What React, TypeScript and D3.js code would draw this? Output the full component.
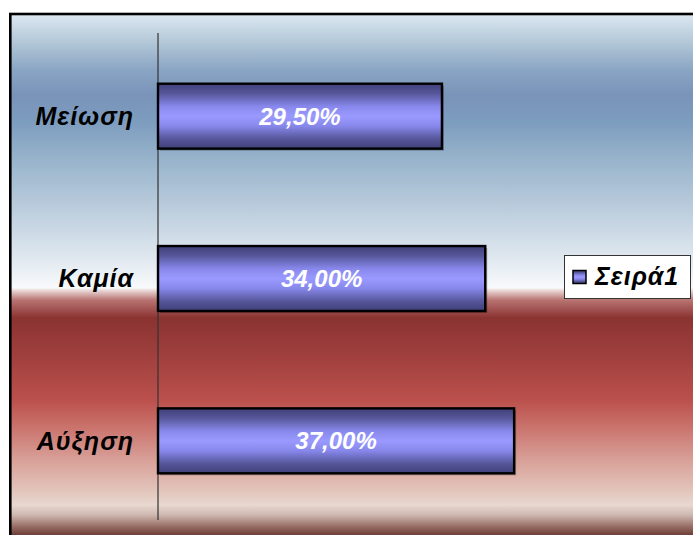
import React from "react";
import * as d3 from "d3";

// Survey result: share of answers per category
const categories: string[] = ["Μείωση", "Καμία", "Αύξηση"];
const values: number[] = [29.5, 34.0, 37.0];
const valueLabels: string[] = ["29,50%", "34,00%", "37,00%"];
const seriesName = "Σειρά1";

const W = 693;
const H = 535;

// background band colours (absolute y → colour)
const bgStops: [number, string][] = [
  [14, "#dce8f2"],
  [40, "#b6cad9"],
  [70, "#8aa5c4"],
  [95, "#7a93b9"],
  [120, "#7c9cbe"],
  [170, "#9fb9cf"],
  [220, "#c3d3e1"],
  [260, "#e1e9f0"],
  [288, "#f8fafc"],
  [290, "#ecdcdb"],
  [300, "#b87472"],
  [318, "#8a3331"],
  [360, "#a2413f"],
  [400, "#bb504c"],
  [425, "#c9706a"],
  [460, "#d8a098"],
  [490, "#e2c4ba"],
  [505, "#e8d8d0"],
  [515, "#cdb8b0"],
  [526, "#9a7068"],
  [535, "#6e3e38"],
];

const barStops: [number, string][] = [
  [0, "#40407a"],
  [0.15, "#56569a"],
  [0.35, "#8888ec"],
  [0.5, "#9999ff"],
  [0.65, "#8888ec"],
  [0.85, "#56569a"],
  [1, "#40407a"],
];

const font = "'Liberation Sans', Arial, sans-serif";

export default function App() {
  const plotTop = 35;
  const plotBottom = 522;
  const plotLeft = 158;

  const y = d3
    .scaleBand<string>()
    .domain(categories)
    .range([plotTop, plotBottom])
    .paddingInner(0.6)
    .paddingOuter(0.3);

  const x = d3.scaleLinear().domain([0, 40]).range([plotLeft, 543]);

  const bgY0 = 14;
  const bgY1 = 535;

  return (
    <svg
      width={W}
      height={H}
      style={{ position: "absolute", left: 0, top: 0, display: "block" }}
    >
      <defs>
        <linearGradient
          id="bg"
          gradientUnits="userSpaceOnUse"
          x1={0}
          y1={bgY0}
          x2={0}
          y2={bgY1}
        >
          {bgStops.map(([yy, c], i) => (
            <stop key={i} offset={(yy - bgY0) / (bgY1 - bgY0)} stopColor={c} />
          ))}
        </linearGradient>
        <linearGradient id="bar" x1={0} y1={0} x2={0} y2={1}>
          {barStops.map(([o, c], i) => (
            <stop key={i} offset={o} stopColor={c} />
          ))}
        </linearGradient>
      </defs>

      <rect x={0} y={0} width={W} height={H} fill="#ffffff" />
      <rect
        x={10.3}
        y={14}
        width={W + 20}
        height={H + 20}
        fill="url(#bg)"
        stroke="#000"
        strokeWidth={2.6}
      />

      {/* category axis */}
      <line
        x1={plotLeft}
        x2={plotLeft}
        y1={33}
        y2={520}
        stroke="#333"
        strokeWidth={1.2}
      />

      {categories.map((c, i) => {
        const by = y(c)!;
        const bh = y.bandwidth();
        const bx = x(0);
        const bw = x(values[i]) - x(0);
        return (
          <g key={c}>
            <rect
              x={bx + 2}
              y={by + 2}
              width={bw}
              height={bh}
              fill="rgba(0,0,0,0.28)"
            />
            <rect
              x={bx}
              y={by}
              width={bw}
              height={bh}
              fill="url(#bar)"
              stroke="#000"
              strokeWidth={2.4}
            />
            <text
              x={bx + bw / 2}
              y={by + bh / 2}
              dy="0.35em"
              textAnchor="middle"
              fill="#ffffff"
              fontFamily={font}
              fontSize={24}
              fontWeight="bold"
              fontStyle="italic"
            >
              {valueLabels[i]}
            </text>
            <text
              x={134}
              y={by + bh / 2}
              dy="0.35em"
              textAnchor="end"
              fill="#000"
              fontFamily={font}
              fontSize={25}
              letterSpacing={1}
              fontWeight="bold"
              fontStyle="italic"
            >
              {c}
            </text>
          </g>
        );
      })}

      {/* legend */}
      <g>
        <rect
          x={564.5}
          y={255.5}
          width={126}
          height={43}
          fill="#ffffff"
          stroke="#333"
          strokeWidth={1}
        />
        <rect
          x={573}
          y={270.5}
          width={13}
          height={13}
          fill="url(#bar)"
          stroke="#000"
          strokeWidth={1.5}
        />
        <text
          x={595}
          y={285}
          fill="#000"
          fontFamily={font}
          fontSize={25}
          letterSpacing={1}
          fontWeight="bold"
          fontStyle="italic"
        >
          {seriesName}
        </text>
      </g>
    </svg>
  );
}
